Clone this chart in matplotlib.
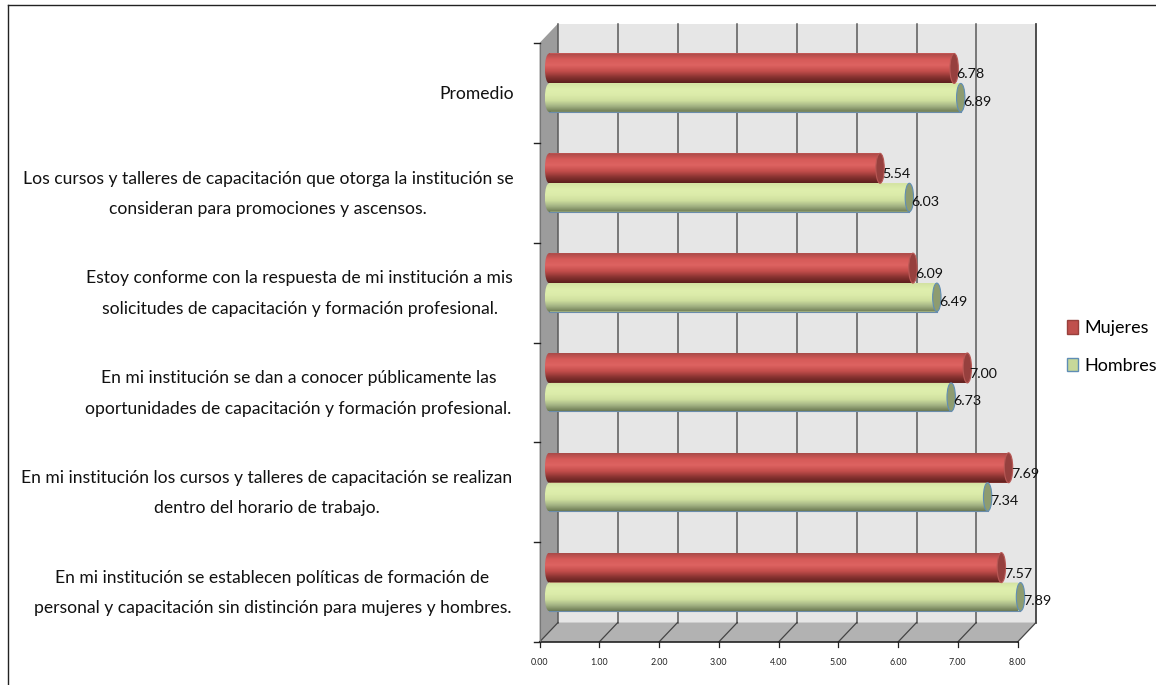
import numpy as np
from matplotlib import pyplot as plt
from matplotlib.colors import LinearSegmentedColormap
from matplotlib.lines import Line2D
from matplotlib.patches import Ellipse, Patch, Polygon
from matplotlib.path import Path
from matplotlib.transforms import blended_transform_factory

plt.rcParams['font.family'] = ['Lato', 'DejaVu Sans']

# bottom category first
categories = [
    "En mi institución se establecen políticas de formación de\npersonal y capacitación sin distinción para mujeres y hombres.",
    "En mi institución los cursos y talleres de capacitación se realizan\ndentro del horario de trabajo.",
    "En mi institución se dan a conocer públicamente las\noportunidades de capacitación y formación profesional.",
    "Estoy conforme con la respuesta de mi institución a mis\nsolicitudes de capacitación y formación profesional.",
    "Los cursos y talleres de capacitación que otorga la institución se\nconsideran para promociones y ascensos.",
    "Promedio",
]
mujeres = [7.57, 7.69, 7.00, 6.09, 5.54, 6.78]
hombres = [7.89, 7.34, 6.73, 6.49, 6.03, 6.89]
x_ticks = [0, 1, 2, 3, 4, 5, 6, 7, 8]

W, H = 1156, 685
label_centers = [272.5, 267, 298.5, 299.5, 268, 476.5]

red_shades = ['#a94a48', '#d65a58', '#dd6361', '#c44e4c', '#8a3432', '#5c1f1d']
green_shades = ['#d3e2a2', '#dfefae', '#dcecaa', '#cfdf9f', '#a4b384', '#6d7b54']

# 3d look: how far the back wall sits from the front plane, in data units
wall_dx, wall_dy = 0.31, 0.195
bar_dx, bar_dy = 0.16, 0.095
cap_rx = 0.07

fig = plt.figure(figsize=(W / 100, H / 100), dpi=100)
ax = fig.add_axes([539.5 / W, 1 - 642 / H, 478 / W, 599 / H])
ax.set_axis_off()

n = len(categories)


def poly(pts, color, z):
    ax.add_patch(Polygon(pts, closed=True, fc=color, ec='none', zorder=z, clip_on=False))


def line(xs, ys, color='#555555', lw=1.0, z=2):
    ax.add_line(Line2D(xs, ys, color=color, lw=lw, zorder=z, clip_on=False))


poly([(wall_dx, wall_dy), (8 + wall_dx, wall_dy), (8 + wall_dx, n + wall_dy), (wall_dx, n + wall_dy)], '#e6e6e6', 1)
poly([(0, 0), (wall_dx, wall_dy), (wall_dx, n + wall_dy), (0, n)], '#9c9c9c', 1)
poly([(0, 0), (8, 0), (8 + wall_dx, wall_dy), (wall_dx, wall_dy)], '#b2b2b2', 1)

for t in x_ticks:
    line([t + wall_dx, t + wall_dx], [wall_dy, n + wall_dy], '#5a5a5a', 1.1)
    line([t, t + wall_dx], [0, wall_dy], '#444444', 0.9)
    line([t, t], [0, -0.05], '#222222', 0.9)
    ax.text(t, -0.21, f"{t:.2f}", ha='center', va='center', fontsize=6.4, color='#222222')
line([8 + wall_dx, 8 + wall_dx], [wall_dy, n + wall_dy], '#444444', 1.1)
line([0, 8], [0, 0], '#222222', 1.2, 3)
line([0, 0], [0, n], '#777777', 0.8, 3)
for i in range(n + 1):
    line([-0.09, 0], [i, i], '#222222', 1.0, 3)


def tube(y_bottom, y_top, value, shades, cap_color, edge_color):
    left = bar_dx
    yc = (y_bottom + y_top) / 2
    h = y_top - y_bottom
    bar = ax.barh(yc, value, h, left=left, color=shades[2], zorder=4, clip_on=False)[0]
    cmap = LinearSegmentedColormap.from_list('tube', shades)
    im = ax.imshow(np.linspace(0, 1, 64)[:, None], cmap=cmap, aspect='auto', origin='upper',
                   extent=(left - cap_rx, left + value, y_bottom, y_top), zorder=5)
    rect = Path(bar.get_corners())
    start = Ellipse((left, yc), 2 * cap_rx, h)
    end = start.get_path().transformed(start.get_patch_transform())
    im.set_clip_path(Path.make_compound_path(rect, end), ax.transData)
    ax.add_patch(Ellipse((left + value, yc), 2 * cap_rx, h, fc=cap_color, ec=edge_color, lw=0.8,
                         zorder=6, clip_on=False))
    return left + value + cap_rx


label_trans = blended_transform_factory(fig.transFigure, ax.transData)
for i in range(n):
    yc = i + 0.5 + bar_dy
    x_m = tube(yc, yc + 0.30, mujeres[i], red_shades, '#96403e', '#b85855')
    x_h = tube(yc - 0.285, yc, hombres[i], green_shades, '#8e9c70', '#5f8db5')
    line([bar_dx, bar_dx + hombres[i]], [yc - 0.285, yc - 0.285], '#6a8cab', 0.8, 6)
    ax.text(x_m - 0.03, yc + 0.09, f"{mujeres[i]:.2f}", ha='left', va='center', fontsize=10.3, color='#111111', zorder=7)
    ax.text(x_h - 0.03, yc - 0.185, f"{hombres[i]:.2f}", ha='left', va='center', fontsize=10.3, color='#111111', zorder=7)
    ax.text(label_centers[i] / W, i + 0.49, categories[i], transform=label_trans,
            ha='center', va='center', fontsize=12.65, linespacing=2.1, color='#111111')

ax.set_xlim(0, 8)
ax.set_ylim(0, n)

handles = [Patch(fc='#c0504d', ec='#98403c', label='Mujeres'), Patch(fc='#c6d89a', ec='#5f8db5', label='Hombres')]
fig.legend(handles=handles, loc='center left', bbox_to_anchor=(1067 / W, 1 - 347 / H), frameon=False,
           fontsize=13, handlelength=0.61, handleheight=0.78, handletextpad=0.33, labelspacing=1.2,
           borderpad=0, borderaxespad=0)

# frame of the pasted picture: only top and left edges show
fig.add_artist(Line2D([8 / W, 8 / W], [0, 1 - 4.5 / H], color='#222222', lw=1.0))
fig.add_artist(Line2D([8 / W, 1], [1 - 4.5 / H, 1 - 4.5 / H], color='#222222', lw=1.0))

fig.savefig('out.png', dpi=100)
